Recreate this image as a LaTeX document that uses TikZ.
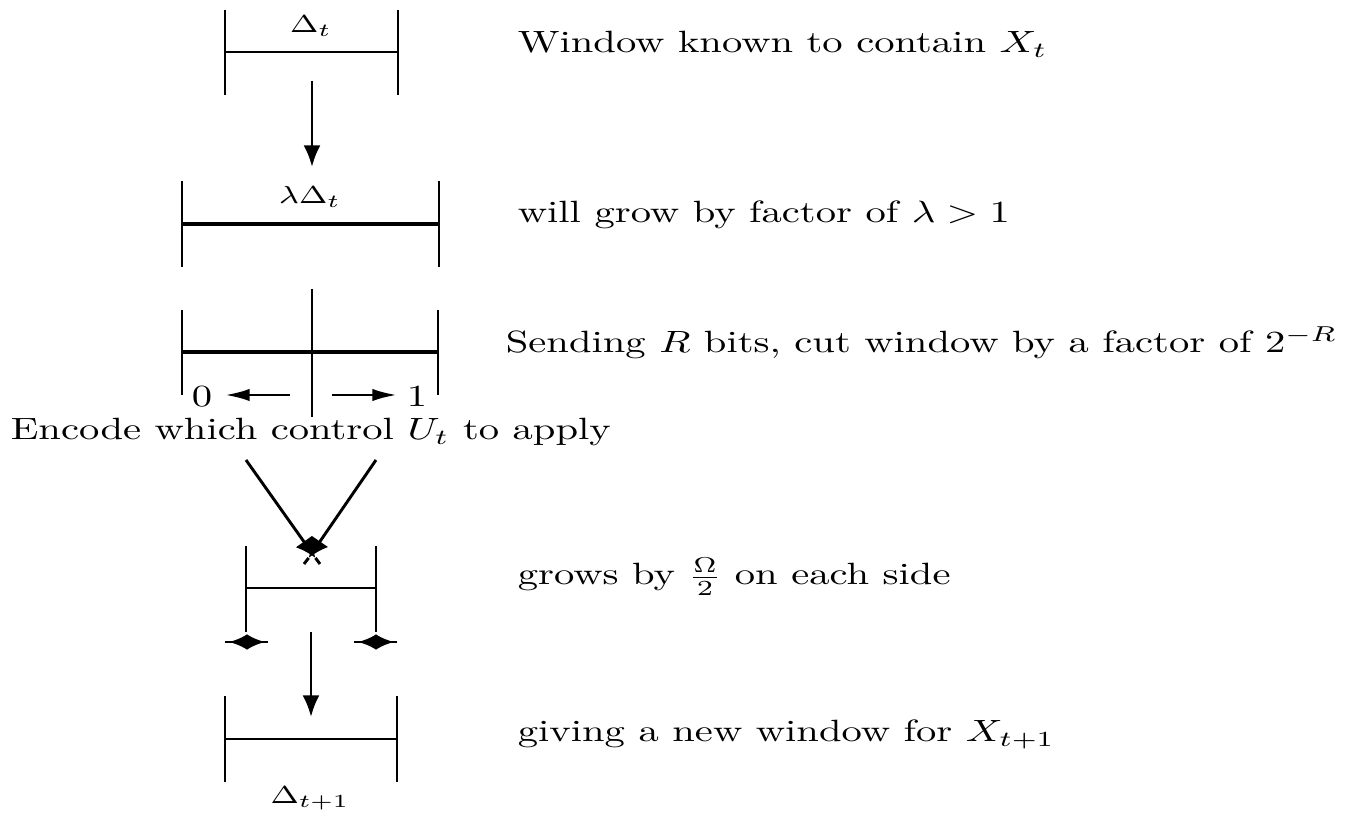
\documentclass[tikz,border=0pt]{standalone}
\usetikzlibrary{arrows.meta}
\begin{document}
\begin{tikzpicture}[x=0.325pt,y=-0.325pt,
  thinline/.style={line width=0.95pt},
  thickline/.style={line width=1.4pt},
  txt/.style={anchor=base west,inner sep=0pt,xscale=1.32,font=\fontsize{10}{12}\selectfont},
  lbl/.style={anchor=base,inner sep=0pt,xscale=1.3,font=\fontsize{8}{9}\selectfont},
  dig/.style={anchor=base,inner sep=0pt,xscale=1.32,font=\fontsize{10}{12}\selectfont},
  varrow/.style={thinline,-{Latex[length=7pt,width=5.5pt]}},
  harrow/.style={thinline,-{Latex[length=8pt,width=4pt]}},
  headonly/.style={thinline,-{Latex[length=6pt,width=5.2pt]}},
  vtip/.style={thinline,-{Latex[length=6.5pt,width=6.5pt]}}]
\useasboundingbox (0,0) rectangle (1358,815);
% window 1
\coordinate (w1lt) at (225,10); \coordinate (w1lb) at (225,95);
\coordinate (w1rt) at (398,10); \coordinate (w1rb) at (398,95);
\coordinate (w1l) at (225,52); \coordinate (w1r) at (398,52);
\draw[thinline] (w1lt) -- (w1lb);
\draw[thinline] (w1rt) -- (w1rb);
\draw[thinline] (w1l) -- (w1r);
\node[lbl] (d1) at (311,33) {$\Delta_t$};
% arrow 1
\coordinate (a1s) at (312,81); \coordinate (a1e) at (312,167);
\draw[varrow] (a1s) -- (a1e);
% window 2
\coordinate (w2lt) at (182,181); \coordinate (w2lb) at (182,267);
\coordinate (w2rt) at (439,181); \coordinate (w2rb) at (439,267);
\coordinate (w2l) at (182,224); \coordinate (w2r) at (439,224);
\draw[thinline] (w2lt) -- (w2lb);
\draw[thinline] (w2rt) -- (w2rb);
\draw[thickline] (w2l) -- (w2r);
\node[lbl] (d2) at (310,204) {$\lambda\Delta_t$};
% window 3
\coordinate (w3lt) at (182,310); \coordinate (w3lb) at (182,395);
\coordinate (w3rt) at (438,310); \coordinate (w3rb) at (438,395);
\coordinate (w3mt) at (312,289); \coordinate (w3mb) at (312,417);
\coordinate (w3l) at (182,352); \coordinate (w3r) at (438,352);
\draw[thinline] (w3lt) -- (w3lb);
\draw[thinline] (w3rt) -- (w3rb);
\draw[thinline] (w3mt) -- (w3mb);
\draw[thickline] (w3l) -- (w3r);
\node[dig] (zero) at (202,407) {0};
\node[dig] (one) at (417,407) {1};
\coordinate (h0s) at (290,395); \coordinate (h0e) at (225,395);
\coordinate (h1s) at (332,395); \coordinate (h1e) at (397,395);
\draw[harrow] (h0s) -- (h0e);
\draw[harrow] (h1s) -- (h1e);
\node[txt] (enc) at (10,440) {Encode which control $U_t$ to apply};
% V lines
\coordinate (vl1) at (246,460); \coordinate (vl2) at (315.5,558); \coordinate (vl3) at (320,564);
\coordinate (vr1) at (376,460); \coordinate (vr2) at (308.6,558); \coordinate (vr3) at (304,564);
\draw[vtip] (vl1) -- (vl2);
\draw[thinline] (vl2) -- (vl3);
\draw[vtip] (vr1) -- (vr2);
\draw[thinline] (vr2) -- (vr3);
% window 4
\coordinate (w4lt) at (246,546); \coordinate (w4lb) at (246,632);
\coordinate (w4rt) at (376,546); \coordinate (w4rb) at (376,632);
\coordinate (w4l) at (246,588); \coordinate (w4r) at (376,588);
\draw[thinline] (w4lt) -- (w4lb);
\draw[thinline] (w4rt) -- (w4rb);
\draw[thinline] (w4l) -- (w4r);
\coordinate (gl1) at (225,642); \coordinate (gl2) at (268,642);
\coordinate (glc) at (247,642); \coordinate (gla) at (229,642); \coordinate (glb) at (265,642);
\coordinate (gr1) at (354,642); \coordinate (gr2) at (397,642);
\coordinate (grc) at (376,642); \coordinate (gra) at (358,642); \coordinate (grb) at (394,642);
\draw[thinline] (gl1) -- (gl2);
\draw[headonly] (glc) -- (gla);
\draw[headonly] (glc) -- (glb);
\draw[thinline] (gr1) -- (gr2);
\draw[headonly] (grc) -- (gra);
\draw[headonly] (grc) -- (grb);
% arrow 2
\coordinate (a2s) at (311,632); \coordinate (a2e) at (311,717);
\draw[varrow] (a2s) -- (a2e);
% window 5
\coordinate (w5lt) at (225,696); \coordinate (w5lb) at (225,782);
\coordinate (w5rt) at (397,696); \coordinate (w5rb) at (397,782);
\coordinate (w5l) at (225,739); \coordinate (w5r) at (397,739);
\draw[thinline] (w5lt) -- (w5lb);
\draw[thinline] (w5rt) -- (w5rb);
\draw[thinline] (w5l) -- (w5r);
\node[lbl] (d5) at (310,804) {$\Delta_{t+1}$};
% right texts
\node[txt] (t1) at (517,53) {Window known to contain $X_t$};
\node[txt] (t2) at (517,223) {will grow by factor of $\lambda > 1$};
\node[txt] (t3) at (505,353) {Sending $R$ bits, cut window by a factor of $2^{-R}$};
\node[txt] (t4) at (517,585) {grows by $\frac{\Omega}{2}$ on each side};
\node[txt] (t5) at (517,742) {giving a new window for $X_{t+1}$};
\end{tikzpicture}
\end{document}
